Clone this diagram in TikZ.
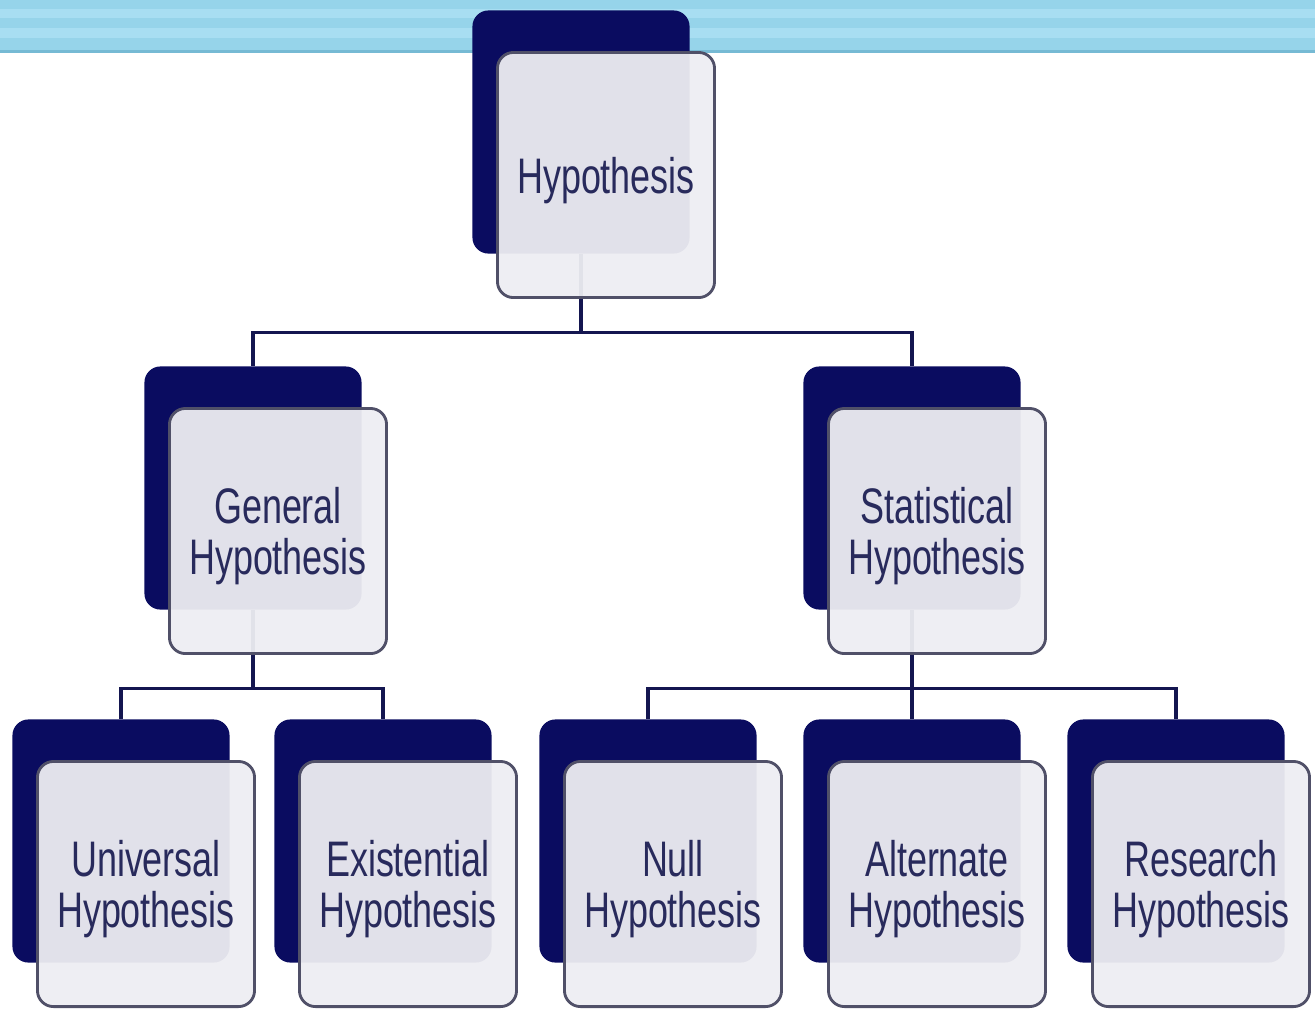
\documentclass[tikz,border=0pt]{standalone}
\usepackage{fontspec}
\setmainfont{Liberation Sans}[FakeStretch=0.72]
\usepackage{xcolor}
\usepackage{tikz}

\definecolor{boxnavy}{RGB}{10,12,96}
\definecolor{boxface}{RGB}{237,237,242}
\definecolor{boxedge}{RGB}{80,80,104}
\definecolor{boxtext}{RGB}{40,42,92}
\definecolor{linkcol}{RGB}{20,22,80}
\definecolor{bandA}{RGB}{150,212,234}
\definecolor{bandB}{RGB}{168,222,242}
\definecolor{bandedge}{RGB}{118,186,212}

\begin{document}
\begin{tikzpicture}[x=0.01cm, y=-0.01cm,
    back/.style={fill=boxnavy, rounded corners=0.16cm, minimum width=2.17cm, minimum height=2.43cm, inner sep=0pt},
    front/.style={draw=boxedge, line width=0.8pt, fill=boxface, fill opacity=0.95, text opacity=1,
        rounded corners=0.16cm, minimum width=2.17cm, minimum height=2.45cm, inner sep=0pt,
        align=center, text depth=0pt, text=boxtext, font=\fontsize{14.2}{14.6}\selectfont},
    link/.style={draw=linkcol, line width=1pt}]
    \useasboundingbox (0,0) rectangle (1315,1011);

    % banner
    \foreach \y/\c in {0/bandA, 9/bandB, 18/bandA, 28/bandB, 38/bandA}
        \fill[\c] (0,\y) rectangle (1315,\y+12);
    \fill[bandedge] (0,50) rectangle (1315,53);

    % back boxes
    \node[back] (hypB) at (581,132) {};
    \node[back] (genB) at (253,488) {};
    \node[back] (statB) at (912,488) {};
    \foreach \name/\x in {uniB/121, exiB/383, nullB/648, altB/912, resB/1176}
        \node[back] (\name) at (\x,841) {};

    % connectors
    \draw[link] (hypB.south) -- ++(0,78) -| (genB.north);
    \draw[link] (hypB.south) -- ++(0,78) -| (statB.north);
    \draw[link] (genB.south) -- ++(0,78) -| (uniB.north);
    \draw[link] (genB.south) -- ++(0,78) -| (exiB.north);
    \draw[link] (statB.south) -- ++(0,78) -| (nullB.north);
    \draw[link] (statB.south) -- ++(0,78) -| (altB.north);
    \draw[link] (statB.south) -- ++(0,78) -| (resB.north);

    % front boxes
    \node[front] (hyp) at ([shift={(25,43)}]hypB.center) {Hypothesis};
    \node[front] (gen) at ([shift={(25,43)}]genB.center) {General\\Hypothesis};
    \node[front] (stat) at ([shift={(25,43)}]statB.center) {Statistical\\Hypothesis};
    \foreach \name/\txt in {uni/Universal, exi/Existential, null/Null, alt/Alternate, res/Research}
        \node[front] (\name) at ([shift={(25,43)}]\name B.center) {\txt\\Hypothesis};
\end{tikzpicture}
\end{document}
